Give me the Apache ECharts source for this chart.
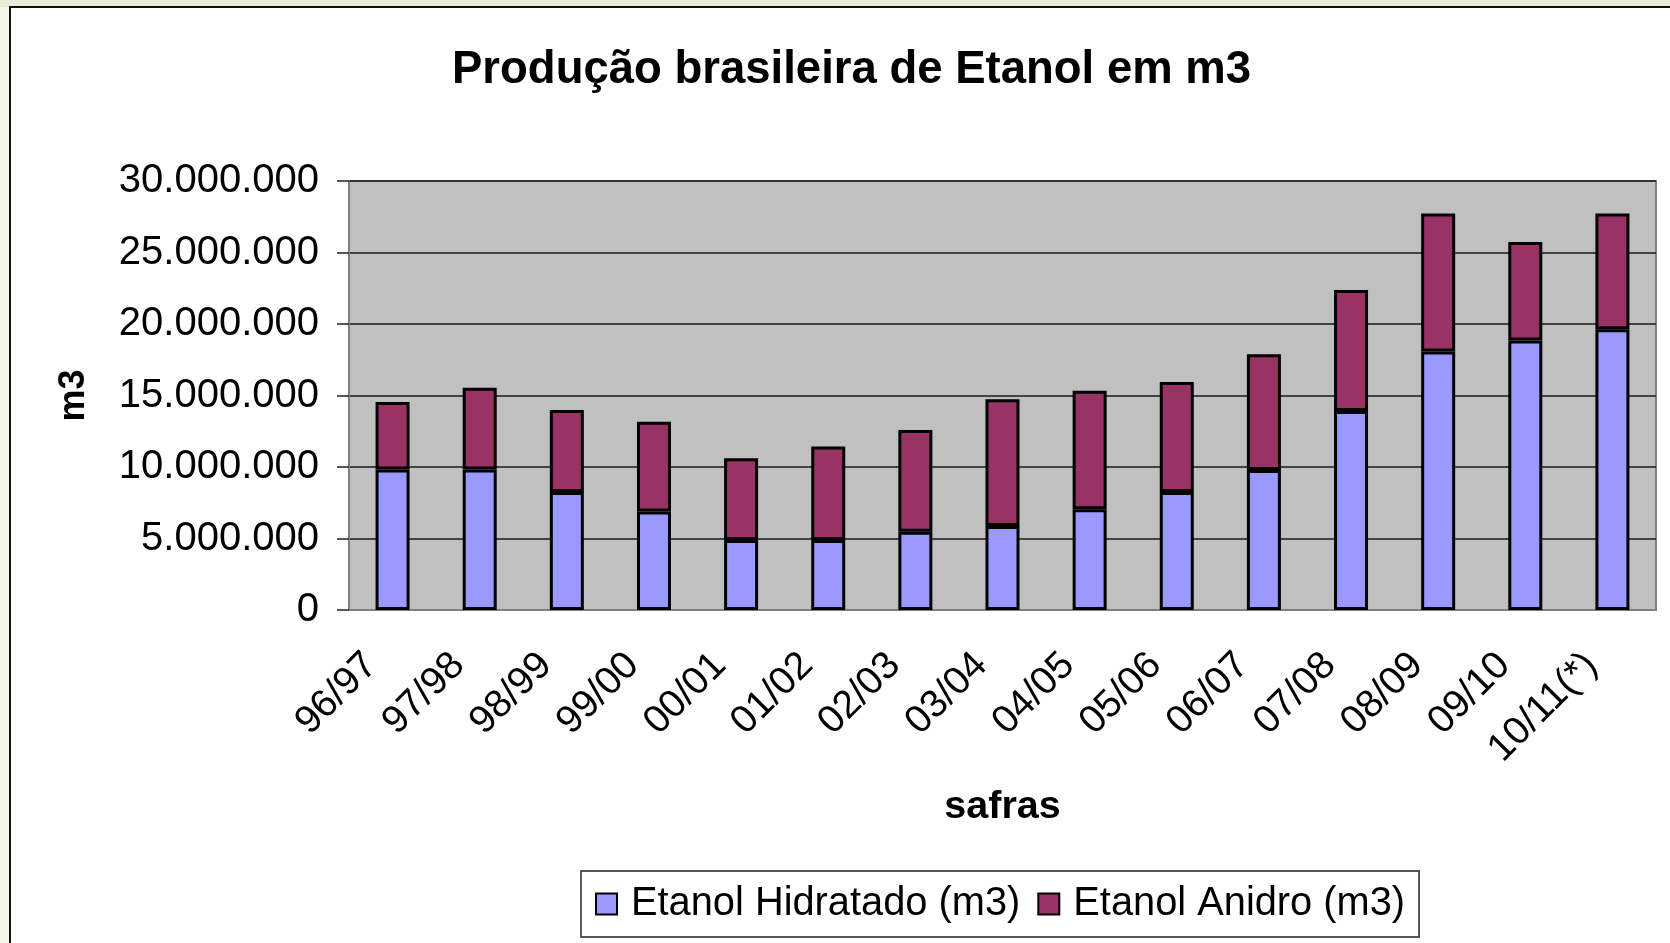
<!DOCTYPE html>
<html>
<head>
<meta charset="utf-8">
<title>Produção brasileira de Etanol em m3</title>
<script src="https://cdn.jsdelivr.net/npm/echarts@6/dist/echarts.min.js"></script>
<style>
    html, body { margin: 0; padding: 0; width: 1670px; height: 943px; overflow: hidden; background: #f6f4e4; }
    #strip { position: absolute; left: 0; top: 0; width: 1670px; height: 7px; background: #e6edd6; }
    #frame { position: absolute; left: 9px; top: 6px; width: 1670px; height: 943px; background: #fff;
             border-left: 2px solid #111; border-top: 2px solid #111; }
    #chart { position: absolute; left: 0; top: 0; width: 1670px; height: 943px; }
</style>
</head>
<body>
<div id="strip"></div>
<div id="frame"></div>
<div id="chart"></div>
<script>
    var safras = ['96/97', '97/98', '98/99', '99/00', '00/01', '01/02', '02/03', '03/04',
        '04/05', '05/06', '06/07', '07/08', '08/09', '09/10', '10/11(*)'];

    var hidratado = [9820000, 9820000, 8250000, 6880000, 4900000, 4900000, 5480000, 5870000,
        7040000, 8250000, 9790000, 13920000, 18070000, 18840000, 19630000];

    var anidro = [4730000, 5730000, 5740000, 6290000, 5710000, 6530000, 7110000, 8860000,
        8300000, 7690000, 8090000, 8460000, 9650000, 6890000, 8090000];

    var yTicks = [0, 5000000, 10000000, 15000000, 20000000, 25000000, 30000000];

    var font = 'Liberation Sans';

    function pontos(v) {
        return String(v).replace(/\B(?=(\d{3})+(?!\d))/g, '.');
    }

    var myChart = echarts.init(document.getElementById('chart'), null, { renderer: 'canvas' });

    myChart.setOption({
        backgroundColor: 'transparent',
        animation: false,
        title: {
            text: 'Produção brasileira de Etanol em m3',
            left: 447,
            top: 42,
            textStyle: { fontFamily: font, fontSize: 45.5, fontWeight: 'bold', color: '#000' }
        },
        legend: {
            left: 581,
            top: 871,
            padding: [13, 14, 13, 14],
            itemWidth: 21,
            itemHeight: 21,
            itemGap: 17,
            icon: 'rect',
            borderColor: '#222',
            borderWidth: 1.5,
            backgroundColor: '#fff',
            textStyle: { fontFamily: font, fontSize: 39.8, color: '#000', padding: [0, 0, 0, 9] },
            data: [
                { name: 'Etanol Hidratado (m3)', itemStyle: { borderColor: '#000', borderWidth: 2 } },
                { name: 'Etanol Anidro (m3)', itemStyle: { borderColor: '#000', borderWidth: 2 } }
            ]
        },
        grid: {
            left: 349,
            top: 181,
            right: 14,
            bottom: 333,
            show: true,
            backgroundColor: '#c0c0c0',
            borderColor: '#808080',
            borderWidth: 2
        },
        xAxis: {
            type: 'category',
            data: safras,
            name: 'safras',
            nameLocation: 'middle',
            nameGap: 177,
            nameTextStyle: { fontFamily: font, fontSize: 39.5, fontWeight: 'bold', color: '#000' },
            axisLine: { lineStyle: { color: '#808080', width: 2 } },
            axisTick: { length: 12, lineStyle: { color: '#222', width: 1.5 } },
            axisLabel: {
                rotate: 45,
                margin: 28,
                padding: [0, 30, 0, 0],
                fontFamily: font,
                fontSize: 39,
                color: '#000'
            }
        },
        yAxis: {
            type: 'value',
            min: yTicks[0],
            max: yTicks[yTicks.length - 1],
            interval: 5000000,
            name: 'm3',
            nameLocation: 'middle',
            nameGap: 257,
            nameTextStyle: { fontFamily: font, fontSize: 36, fontWeight: 'bold', color: '#000' },
            axisLine: { show: true, lineStyle: { color: '#808080', width: 2 } },
            axisTick: { show: true, length: 12, lineStyle: { color: '#222', width: 1.5 } },
            axisLabel: {
                margin: 30,
                fontFamily: font,
                fontSize: 40,
                color: '#000',
                formatter: pontos
            },
            splitLine: { lineStyle: { color: '#1a1a1a', width: 1.5 } }
        },
        series: [
            {
                name: 'Etanol Hidratado (m3)',
                type: 'bar',
                stack: 'etanol',
                barWidth: 34,
                data: hidratado,
                itemStyle: { color: '#9999ff', borderColor: '#000', borderWidth: 3 }
            },
            {
                name: 'Etanol Anidro (m3)',
                type: 'bar',
                stack: 'etanol',
                barWidth: 34,
                data: anidro,
                itemStyle: { color: '#993366', borderColor: '#000', borderWidth: 3 }
            }
        ]
    });
</script>
</body>
</html>
